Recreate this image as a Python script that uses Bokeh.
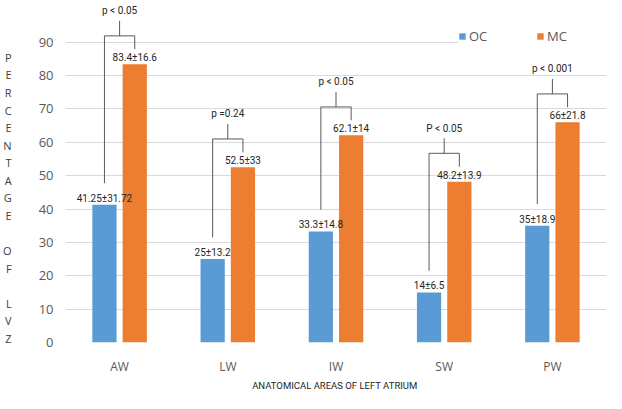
from bokeh.plotting import figure
from bokeh.models import FactorRange, FixedTicker, Legend, LegendItem, ColumnDataSource, Range1d
from bokeh.transform import dodge
from bokeh.core.properties import value
from bokeh.embed import file_html
from bokeh.resources import INLINE

categories = ["AW", "LW", "IW", "SW", "PW"]
oc_values = [41.25, 25, 33.3, 15, 35]
mc_values = [83.4, 52.5, 62.1, 48.2, 66]
oc_labels = ["41.25±31.72", "25±13.2", "33.3±14.8", "14±6.5", "35±18.9"]
mc_labels = ["83.4±16.6", "52.5±33", "62.1±14", "48.2±13.9", "66±21.8"]
p_labels = ["p < 0.05", "p =0.24", "p < 0.05", "P < 0.05", "p < 0.001"]
y_ticks = [0, 10, 20, 30, 40, 50, 60, 70, 80, 90]
series_names = ["OC", "MC"]
x_title = "ANATOMICAL  AREAS OF LEFT ATRIUM"
y_title = "PERCENTAGE OF LVZ"

BLUE = "#5B9BD5"
ORANGE = "#ED7D31"
GRAY = "#595959"
TXT_FONT = "Roboto"

Y_END = 102.5

src = ColumnDataSource(dict(
    cat=categories,
    oc=oc_values,
    mc=mc_values,
    oc_lab=oc_labels,
    mc_lab=mc_labels,
    p_lab=p_labels,
    left_bottom=[v + 6.5 for v in oc_values],
    right_bottom=[v + 4.5 for v in mc_values],
    top=[v + 8.5 for v in mc_values],
    tick_top=[v + 13 for v in mc_values],
    p_y=[v + 16 for v in mc_values],
))

p = figure(x_range=FactorRange(*categories), y_range=Range1d(0, Y_END),
           width=606, height=393, output_backend="svg", toolbar_location=None,
           min_border_left=62, min_border_right=0, min_border_top=0, min_border_bottom=0)
p.outline_line_color = None
p.background_fill_color = "white"
p.border_fill_color = "white"

off = 0.14
bw = 0.224
r_oc = p.vbar(x=dodge("cat", -off, range=p.x_range), top="oc", width=bw, source=src,
              fill_color=BLUE, line_color=None)
r_mc = p.vbar(x=dodge("cat", off, range=p.x_range), top="mc", width=bw, source=src,
              fill_color=ORANGE, line_color=None)

lx = dodge("cat", -off, range=p.x_range)
rx = dodge("cat", off, range=p.x_range)
cx = dodge("cat", 0, range=p.x_range)
line_kw = dict(line_color=GRAY, line_width=1, source=src)
p.segment(x0=lx, y0="left_bottom", x1=lx, y1="top", **line_kw)
p.segment(x0=lx, y0="top", x1=rx, y1="top", **line_kw)
p.segment(x0=rx, y0="right_bottom", x1=rx, y1="top", **line_kw)
p.segment(x0=cx, y0="top", x1=cx, y1="tick_top", **line_kw)

txt_kw = dict(source=src, text_align="center", text_font=value(TXT_FONT),
              text_font_size=value("10px"), text_color="#262626")
p.text(x=lx, y="oc", text="oc_lab", text_baseline="bottom", y_offset=-1, **txt_kw)
p.text(x=rx, y="mc", text="mc_lab", text_baseline="bottom", y_offset=-1, **txt_kw)
p.text(x=cx, y="p_y", text="p_lab", text_baseline="middle", **txt_kw)

# axes
p.yaxis.ticker = FixedTicker(ticks=y_ticks)
p.yaxis.axis_line_color = None
p.yaxis.major_tick_line_color = None
p.yaxis.major_tick_out = 0
p.yaxis.minor_tick_line_color = None
p.yaxis.major_label_standoff = 12
p.yaxis.major_label_text_font = "Open Sans"
p.yaxis.major_label_text_font_size = "13px"
p.yaxis.major_label_text_color = GRAY

# stacked vertical y title: one letter per line (leading blank lines centre it lower)
stacked = ["\u00a0"] * 3 + [ch if ch != " " else "\u00a0" for ch in y_title]
p.yaxis.axis_label = "\n".join(stacked)
p.yaxis.axis_label_orientation = "horizontal"
p.yaxis.axis_label_standoff = 24
p.yaxis.axis_label_text_font = "Open Sans"
p.yaxis.axis_label_text_font_size = "11px"
p.yaxis.axis_label_text_font_style = "normal"
p.yaxis.axis_label_text_color = "#404040"
p.yaxis.axis_label_text_line_height = 1.17
p.yaxis.axis_label_text_align = "center"

p.xaxis.axis_line_color = None
p.xaxis.major_tick_line_color = None
p.xaxis.major_tick_out = 0
p.xaxis.major_label_standoff = 15
p.xaxis.major_label_text_font = "Open Sans"
p.xaxis.major_label_text_font_size = "12px"
p.xaxis.major_label_text_color = GRAY
p.xaxis.axis_label = x_title
p.xaxis.axis_label_standoff = 2
p.xaxis.axis_label_text_font = TXT_FONT
p.xaxis.axis_label_text_font_size = "9.5px"
p.xaxis.axis_label_text_font_style = "normal"
p.xaxis.axis_label_text_color = "#262626"

p.xgrid.grid_line_color = None
p.ygrid.grid_line_color = "#D9D9D9"
p.ygrid.grid_line_width = 1

legend = Legend(items=[LegendItem(label=series_names[0], renderers=[r_oc]),
                       LegendItem(label=series_names[1], renderers=[r_mc])],
                orientation="horizontal", location=(393, 297),
                glyph_width=8, glyph_height=8, label_standoff=3, label_width=67,
                spacing=0, padding=5, margin=0,
                label_text_font="Open Sans", label_text_font_size="13px",
                label_text_color=GRAY, background_fill_color="white",
                background_fill_alpha=1.0, border_line_color=None)
p.add_layout(legend)

open("out.html", "w").write(file_html(p, INLINE))
